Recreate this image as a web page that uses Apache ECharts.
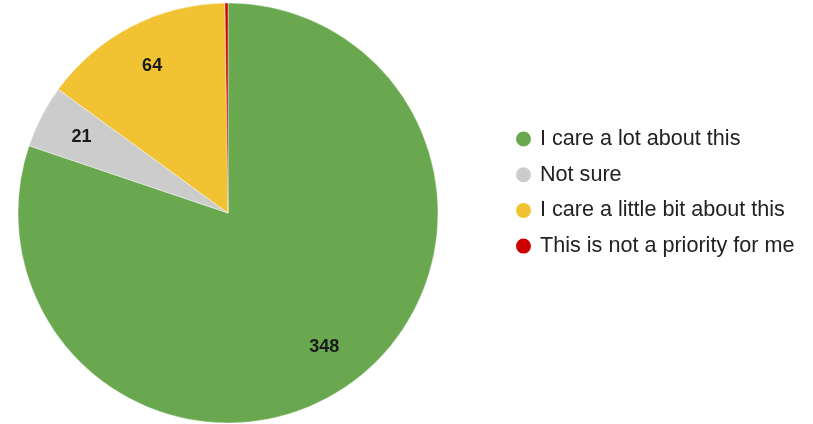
<!DOCTYPE html>
<html>
<head>
<meta charset="utf-8">
<script src="https://cdn.jsdelivr.net/npm/echarts@6/dist/echarts.min.js"></script>
<style>
  html, body { margin: 0; padding: 0; background: #fff; }
  #chart { width: 813px; height: 424px; }
</style>
</head>
<body>
<div id="chart"></div>
<script>
// Survey answers and their counts
const categories = [
  'I care a lot about this',
  'Not sure',
  'I care a little bit about this',
  'This is not a priority for me'
];
const counts = [348, 21, 64, 1];
const colors = ['#6aa84f', '#cccccc', '#f1c232', '#cc0000'];

const total = counts.reduce((a, b) => a + b, 0);
const slices = categories.map((name, i) => ({ name, value: counts[i] }));

const chart = echarts.init(document.getElementById('chart'));
chart.setOption({
  animation: false,
  color: colors,
  legend: {
    orient: 'vertical',
    left: 509,
    top: 123,
    icon: 'circle',
    itemWidth: 17,
    itemHeight: 17,
    itemGap: 13.7,
    textStyle: {
      fontFamily: 'Liberation Sans, Arial, sans-serif',
      fontSize: 21.6,
      color: '#222',
      lineHeight: 22,
      padding: [0, 0, 0, 3]
    },
    data: categories
  },
  series: [
    {
      type: 'pie',
      center: [228, 213],
      radius: [0, 210],
      startAngle: 90,
      clockwise: true,
      label: { show: false },
      labelLine: { show: false },
      itemStyle: { borderColor: '#fff', borderWidth: 0.4 },
      emphasis: { disabled: true },
      data: slices
    },
    {
      // transparent ring that carries the value labels further out than 'inside'
      type: 'pie',
      center: [228, 213],
      radius: [146, 178],
      startAngle: 90,
      clockwise: true,
      silent: true,
      itemStyle: { color: 'rgba(0,0,0,0)' },
      label: {
        position: 'inside',
        fontFamily: 'Liberation Sans, Arial, sans-serif',
        fontSize: 18,
        fontWeight: 'bold',
        color: '#1a1a1a',
        formatter: p => (p.value / total > 0.02 ? String(p.value) : '')
      },
      labelLine: { show: false },
      emphasis: { disabled: true },
      data: slices
    }
  ]
});
</script>
</body>
</html>
